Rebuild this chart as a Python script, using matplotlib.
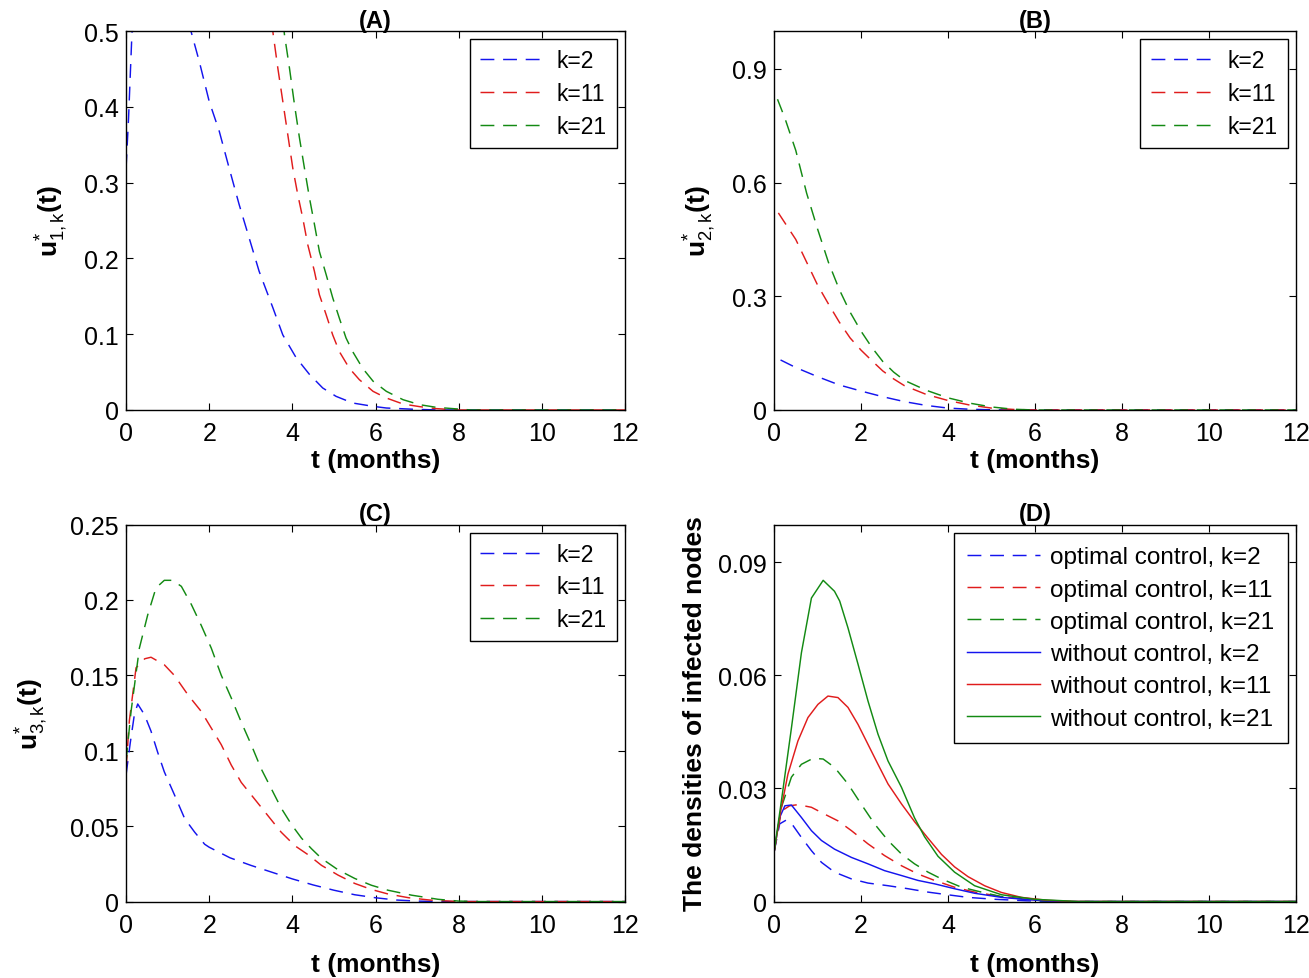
import matplotlib
matplotlib.use('Agg')
import matplotlib.pyplot as plt
from matplotlib.ticker import FuncFormatter

plt.rcParams['font.family'] = ['Liberation Sans', 'DejaVu Sans']
plt.rcParams['mathtext.fontset'] = 'custom'
plt.rcParams['mathtext.rm'] = 'Liberation Sans'
plt.rcParams['mathtext.bf'] = 'Liberation Sans:bold'
plt.rcParams['mathtext.it'] = 'Liberation Sans:italic'

BLUE = '#1414ee'
RED = '#e01c1c'
GREEN = '#138a13'
DASH = (0, (9.5, 6))

# ---- panel A : u*_{1,k}(t) ----
tA_k2 = [0, 0.06, 0.14, 0.3, 0.8, 1.3, 1.56, 1.76, 2.0, 2.24, 2.48, 2.72, 2.96, 3.2, 3.53,
         3.77, 4.09, 4.41, 4.73, 5.05, 5.45, 5.94, 6.26, 6.9, 7.5, 12]
uA_k2 = [0.319, 0.385, 0.495, 0.62, 0.7, 0.6, 0.5, 0.46, 0.407, 0.368, 0.319, 0.271, 0.227, 0.183, 0.135,
         0.099, 0.069, 0.047, 0.029, 0.018, 0.0092, 0.0048, 0.0026, 0.001, 0.0, 0.0]
tA_k11 = [0, 3.3, 3.54, 3.65, 3.77, 3.89, 4.01, 4.13, 4.25, 4.37, 4.53, 4.65, 4.81, 4.97, 5.13,
          5.37, 5.61, 5.94, 6.26, 6.66, 7.06, 7.46, 8.0, 12]
uA_k11 = [0.9, 0.6, 0.495, 0.451, 0.407, 0.363, 0.319, 0.284, 0.253, 0.218, 0.183, 0.152, 0.126, 0.099, 0.077,
          0.055, 0.04, 0.0246, 0.0158, 0.0079, 0.0044, 0.0018, 0.0, 0.0]
tA_k21 = [0, 3.6, 3.81, 3.93, 4.05, 4.17, 4.29, 4.41, 4.53, 4.65, 4.81, 4.97, 5.13, 5.29, 5.45,
          5.69, 5.94, 6.26, 6.66, 7.06, 7.46, 7.86, 8.3, 12]
uA_k21 = [0.95, 0.6, 0.495, 0.451, 0.403, 0.359, 0.319, 0.28, 0.245, 0.209, 0.179, 0.148, 0.121, 0.095, 0.077,
          0.055, 0.038, 0.0246, 0.0136, 0.007, 0.0035, 0.0018, 0.0, 0.0]

# ---- panel B : u*_{2,k}(t) ----
tB_k2 = [0.15, 0.5, 1.0, 1.5, 2.0, 2.5, 3.0, 3.5, 4.0, 4.5, 5.0, 5.5, 12]
uB_k2 = [0.132, 0.112, 0.088, 0.066, 0.05, 0.035, 0.022, 0.012, 0.005, 0.002, 0.0005, 0.0, 0.0]
tB_k11 = [0.1, 0.3, 0.5, 0.75, 1.0, 1.25, 1.5, 1.75, 2.0, 2.25, 2.5, 2.75, 3.0, 3.5, 4.0, 4.5,
          5.0, 5.5, 6.0, 12]
uB_k11 = [0.52, 0.485, 0.45, 0.39, 0.33, 0.28, 0.232, 0.19, 0.158, 0.13, 0.103, 0.082, 0.064, 0.041, 0.025, 0.013,
          0.005, 0.0015, 0.0, 0.0]
tB_k21 = [0.08, 0.25, 0.5, 0.75, 1.0, 1.25, 1.5, 1.75, 2.0, 2.25, 2.5, 2.75, 3.0, 3.5, 4.0, 4.5,
          5.0, 5.5, 6.0, 12]
uB_k21 = [0.82, 0.77, 0.685, 0.572, 0.478, 0.39, 0.318, 0.258, 0.208, 0.165, 0.128, 0.1, 0.078, 0.052, 0.032, 0.018,
          0.008, 0.002, 0.0, 0.0]

# ---- panel C : u*_{3,k}(t) ----
tC_k2 = [0, 0.1, 0.2, 0.28, 0.44, 0.6, 0.76, 0.92, 1.16, 1.41, 1.65, 1.89, 2.0, 2.5, 3.0, 3.5,
         4.0, 4.5, 5.0, 5.5, 6.0, 6.5, 7.0, 7.5, 12]
uC_k2 = [0.084, 0.105, 0.124, 0.131, 0.124, 0.113, 0.099, 0.086, 0.071, 0.055, 0.046, 0.038, 0.036, 0.029, 0.024, 0.0195,
         0.015, 0.011, 0.0075, 0.0045, 0.0025, 0.001, 0.0003, 0.0, 0.0]
tC_k11 = [0, 0.08, 0.24, 0.45, 0.6, 0.92, 1.16, 1.49, 1.81, 2.05, 2.29, 2.53, 2.77, 3.09, 3.41, 3.73,
          4.06, 4.38, 4.7, 5.1, 5.5, 5.9, 6.3, 6.8, 7.3, 8.0, 12]
uC_k11 = [0.088, 0.12, 0.155, 0.161, 0.162, 0.157, 0.15, 0.137, 0.126, 0.115, 0.104, 0.0905, 0.079, 0.068, 0.057, 0.046,
          0.037, 0.031, 0.024, 0.0175, 0.012, 0.008, 0.005, 0.0025, 0.001, 0.0, 0.0]
tC_k21 = [0, 0.12, 0.32, 0.52, 0.72, 0.92, 1.12, 1.33, 1.57, 1.81, 2.05, 2.29, 2.53, 2.77, 3.01, 3.25,
          3.49, 3.73, 3.98, 4.22, 4.46, 4.7, 5.1, 5.5, 5.9, 6.3, 6.87, 7.5, 8.0, 8.5, 12]
uC_k21 = [0.093, 0.126, 0.168, 0.19, 0.208, 0.213, 0.213, 0.209, 0.197, 0.183, 0.168, 0.15, 0.135, 0.119, 0.104, 0.088,
          0.075, 0.062, 0.051, 0.042, 0.035, 0.0286, 0.021, 0.0153, 0.0108, 0.0075, 0.0042, 0.0015, 0.0003, 0.0, 0.0]

# ---- panel D : densities of infected nodes ----
tD_opt_k2 = [0, 0.13, 0.28, 0.44, 0.63, 0.86, 1.09, 1.39, 1.78, 2.16, 2.62, 3.08, 3.54, 3.99, 4.46,
             5.07, 5.8, 6.5, 12]
iD_opt_k2 = [0.013, 0.0206, 0.0216, 0.0201, 0.017, 0.0135, 0.0104, 0.0078, 0.006, 0.0049, 0.0042, 0.0034, 0.0025,
             0.0018, 0.0011, 0.0006, 0.0002, 0.0, 0.0]
tD_opt_k11 = [0, 0.17, 0.36, 0.55, 0.86, 1.16, 1.47, 1.78, 2.16, 2.54, 2.93, 3.31, 3.69, 4.15, 4.61,
              5.23, 5.84, 6.5, 12]
iD_opt_k11 = [0.013, 0.024, 0.0254, 0.0257, 0.025, 0.0232, 0.0214, 0.0188, 0.0153, 0.0122, 0.0095, 0.0073, 0.0056,
              0.0038, 0.0025, 0.0013, 0.0006, 0.0, 0.0]
tD_opt_k21 = [0, 0.17, 0.4, 0.63, 0.9, 1.13, 1.39, 1.7, 2.0, 2.31, 2.62, 2.93, 3.23, 3.54, 3.85,
              4.31, 4.77, 5.23, 5.84, 6.5, 12]
iD_opt_k21 = [0.013, 0.025, 0.033, 0.0364, 0.038, 0.0378, 0.0356, 0.0312, 0.0259, 0.0206, 0.0162, 0.0126, 0.01,
              0.0078, 0.006, 0.0038, 0.0025, 0.0013, 0.0005, 0.0, 0.0]
tD_no_k2 = [0, 0.13, 0.25, 0.4, 0.63, 0.86, 1.09, 1.39, 1.78, 2.16, 2.54, 2.93, 3.31, 3.69, 4.15,
            4.61, 5.23, 5.84, 6.5, 12]
iD_no_k2 = [0.013, 0.0223, 0.0254, 0.0256, 0.0223, 0.0188, 0.0162, 0.0139, 0.0117, 0.01, 0.0082, 0.0069, 0.0056,
            0.0047, 0.0034, 0.0022, 0.0011, 0.0005, 0.0, 0.0]
tD_no_k11 = [0, 0.17, 0.32, 0.55, 0.78, 1.01, 1.24, 1.47, 1.7, 1.93, 2.16, 2.39, 2.62, 2.93, 3.23,
             3.54, 3.85, 4.15, 4.46, 4.84, 5.23, 5.69, 6.3, 7.0, 12]
iD_no_k11 = [0.013, 0.025, 0.0338, 0.0426, 0.0488, 0.0523, 0.0545, 0.0541, 0.0515, 0.047, 0.0417, 0.0364, 0.0312,
             0.0259, 0.0212, 0.0168, 0.0125, 0.0092, 0.0066, 0.0042, 0.0024, 0.0011, 0.0003, 0.0, 0.0]
tD_no_k21 = [0, 0.17, 0.4, 0.63, 0.86, 1.13, 1.39, 1.51, 1.7, 1.93, 2.16, 2.39, 2.62, 2.93, 3.23,
             3.46, 3.77, 4.15, 4.61, 5.23, 5.99, 7.0, 12]
iD_no_k21 = [0.013, 0.0267, 0.046, 0.066, 0.0805, 0.0852, 0.0823, 0.0797, 0.0726, 0.063, 0.0532, 0.0444, 0.0373,
             0.0303, 0.0222, 0.0172, 0.012, 0.0078, 0.0042, 0.0018, 0.0006, 0.0, 0.0]

k_labels = ['k=2', 'k=11', 'k=21']
d_labels = ['optimal control, k=2', 'optimal control, k=11', 'optimal control, k=21',
            'without control, k=2', 'without control, k=11', 'without control, k=21']


def style_axes(ax, yticks, ylim, title, ylabel, ylabelpad, xlabelpad):
    ax.set_xlim(0, 12)
    ax.set_ylim(*ylim)
    ax.set_xticks(range(0, 13, 2))
    ax.set_yticks(yticks)
    ax.yaxis.set_major_formatter(FuncFormatter(lambda v, p: '%g' % v))
    ax.tick_params(direction='in', top=True, right=True, length=5, width=0.8, labelsize=18)
    ax.tick_params(axis='x', pad=8)
    ax.tick_params(axis='y', pad=5)
    for s in ax.spines.values():
        s.set_linewidth(1.0)
    ax.set_title(title, fontsize=17, fontweight='bold', pad=3)
    ax.set_xlabel('t (months)', fontsize=19, fontweight='bold', labelpad=xlabelpad)
    ax.set_ylabel(ylabel, fontsize=19, fontweight='bold', labelpad=ylabelpad)


def k_legend(ax, fs=16.5):
    leg = ax.legend(loc='upper right', fontsize=fs, handlelength=2.9, handletextpad=0.45,
                    borderpad=0.45, labelspacing=0.42, borderaxespad=0.35, fancybox=False,
                    framealpha=1, edgecolor='black')
    leg.get_frame().set_linewidth(1.0)
    return leg


fig = plt.figure(figsize=(13.09, 9.79), dpi=100)
axA = fig.add_axes([0.0963, 0.5802, 0.3812, 0.3871])
axB = fig.add_axes([0.5913, 0.5802, 0.3988, 0.3871])
axC = fig.add_axes([0.0963, 0.0781, 0.3812, 0.3851])
axD = fig.add_axes([0.5913, 0.0781, 0.3988, 0.3851])

lw = 1.05
axA.plot(tA_k2, uA_k2, color=BLUE, ls=DASH, lw=lw, label=k_labels[0])
axA.plot(tA_k11, uA_k11, color=RED, ls=DASH, lw=lw, label=k_labels[1])
axA.plot(tA_k21, uA_k21, color=GREEN, ls=DASH, lw=lw, label=k_labels[2])
style_axes(axA, [0, 0.1, 0.2, 0.3, 0.4, 0.5], (0, 0.5), '(A)',
           r'$\mathbf{u}^{\mathrm{*}}_{\mathrm{1,k}}\mathbf{(t)}$', 10, 2)
k_legend(axA)

axB.plot(tB_k2, uB_k2, color=BLUE, ls=DASH, lw=lw, label=k_labels[0])
axB.plot(tB_k11, uB_k11, color=RED, ls=DASH, lw=lw, label=k_labels[1])
axB.plot(tB_k21, uB_k21, color=GREEN, ls=DASH, lw=lw, label=k_labels[2])
style_axes(axB, [0, 0.3, 0.6, 0.9], (0, 1.0), '(B)',
           r'$\mathbf{u}^{\mathrm{*}}_{\mathrm{2,k}}\mathbf{(t)}$', 10, 2)
k_legend(axB)

axC.plot(tC_k2, uC_k2, color=BLUE, ls=DASH, lw=lw, label=k_labels[0])
axC.plot(tC_k11, uC_k11, color=RED, ls=DASH, lw=lw, label=k_labels[1])
axC.plot(tC_k21, uC_k21, color=GREEN, ls=DASH, lw=lw, label=k_labels[2])
style_axes(axC, [0, 0.05, 0.1, 0.15, 0.2, 0.25], (0, 0.25), '(C)',
           r'$\mathbf{u}^{\mathrm{*}}_{\mathrm{3,k}}\mathbf{(t)}$', 15, 11)
k_legend(axC)

axD.plot(tD_opt_k2, iD_opt_k2, color=BLUE, ls=DASH, lw=lw, label=d_labels[0])
axD.plot(tD_opt_k11, iD_opt_k11, color=RED, ls=DASH, lw=lw, label=d_labels[1])
axD.plot(tD_opt_k21, iD_opt_k21, color=GREEN, ls=DASH, lw=lw, label=d_labels[2])
axD.plot(tD_no_k2, iD_no_k2, color=BLUE, ls='-', lw=lw, label=d_labels[3])
axD.plot(tD_no_k11, iD_no_k11, color=RED, ls='-', lw=lw, label=d_labels[4])
axD.plot(tD_no_k21, iD_no_k21, color=GREEN, ls='-', lw=lw, label=d_labels[5])
style_axes(axD, [0, 0.03, 0.06, 0.09], (0, 0.1), '(D)',
           'The densities of infected nodes', 8, 11)
legD = axD.legend(loc='upper right', fontsize=17.5, handlelength=3.0, handletextpad=0.4,
                  borderpad=0.55, labelspacing=0.42, borderaxespad=0.35, fancybox=False,
                  framealpha=1, edgecolor='black')
legD.get_frame().set_linewidth(1.0)

fig.savefig('out.png', dpi=100)
